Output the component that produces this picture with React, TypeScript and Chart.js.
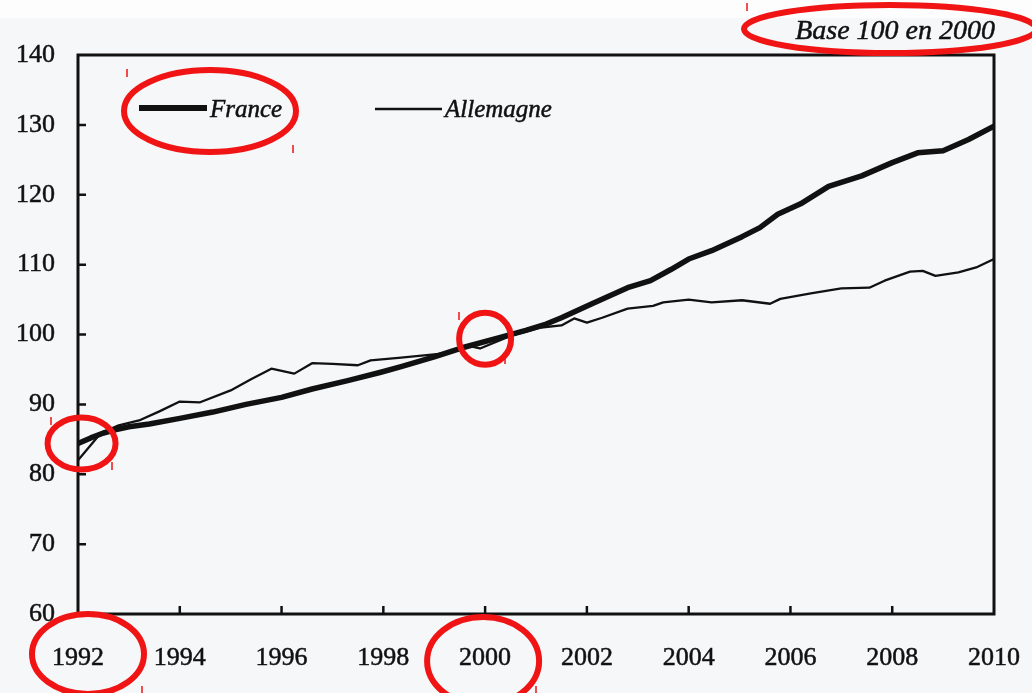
import React, { useEffect, useRef } from "react";
import { Chart, registerables } from "chart.js";

Chart.register(...registerables);

// ---- Data ----
const franceYears = [1992.0, 1992.25, 1992.5, 1992.75, 1993.0, 1993.4, 1994.0, 1994.65, 1995.3, 1996.0, 1996.6, 1997.3, 1997.95, 1998.35, 1999.0, 1999.55, 2000.3, 2000.8, 2001.2, 2001.5, 2002.1, 2002.8, 2003.25, 2003.65, 2004.0, 2004.45, 2005.05, 2005.4, 2005.75, 2006.2, 2006.75, 2007.4, 2008.0, 2008.5, 2009.0, 2009.5, 2010.0];
const franceValues = [84.4, 85.2, 85.9, 86.4, 86.8, 87.2, 88.0, 88.9, 90.0, 91.0, 92.2, 93.4, 94.6, 95.4, 96.8, 98.1, 99.6, 100.6, 101.5, 102.4, 104.4, 106.7, 107.7, 109.3, 110.8, 112.0, 114.0, 115.3, 117.2, 118.7, 121.2, 122.7, 124.6, 126.0, 126.3, 127.9, 129.8];

const germanyYears = [1992.0, 1992.45, 1992.8, 1993.2, 1993.6, 1994.0, 1994.4, 1995.0, 1995.4, 1995.8, 1996.25, 1996.6, 1997.0, 1997.5, 1997.75, 1998.35, 1998.8, 1999.2, 1999.5, 1999.65, 1999.9, 2000.5, 2001.1, 2001.5, 2001.75, 2002.0, 2002.3, 2002.8, 2003.3, 2003.5, 2004.0, 2004.45, 2005.05, 2005.6, 2005.8, 2006.4, 2007.0, 2007.55, 2007.85, 2008.35, 2008.6, 2008.85, 2009.3, 2009.65, 2010.0];
const germanyValues = [82.0, 85.9, 87.0, 87.7, 89.0, 90.4, 90.3, 92.0, 93.6, 95.1, 94.4, 95.9, 95.8, 95.6, 96.3, 96.7, 97.0, 97.3, 97.8, 98.4, 98.0, 99.8, 101.0, 101.3, 102.3, 101.7, 102.4, 103.7, 104.1, 104.6, 105.0, 104.6, 104.9, 104.4, 105.1, 105.9, 106.6, 106.7, 107.7, 109.0, 109.1, 108.4, 108.9, 109.6, 110.8];

const seriesNames = ["France", "Allemagne"];
const yMin = 60;
const yMax = 140;
const yStep = 10;
const xMin = 1992;
const xMax = 2010;
const xStep = 2;
const noteText = "Base 100 en 2000";

const SERIF = "'Liberation Serif', 'Times New Roman', serif";
const RED = "#f01414";
const INK = "#111";

const toPoints = (xs: number[], ys: number[]) => xs.map((x, i) => ({ x, y: ys[i] }));

const overlayPlugin = {
  id: "overlay",
  beforeDraw(chart: any) {
    const ctx = chart.ctx;
    ctx.save();
    ctx.fillStyle = "#f6f7f9";
    ctx.fillRect(0, 0, chart.width, chart.height);
    ctx.fillStyle = "#fdfdfd";
    ctx.fillRect(0, 0, chart.width, 18);
    ctx.restore();
  },
  beforeDatasetsDraw(chart: any) {
    const ctx = chart.ctx;
    const { left, right, top, bottom } = chart.chartArea;
    const xs = chart.scales.x;
    const ys = chart.scales.y;
    ctx.save();
    ctx.strokeStyle = INK;
    ctx.lineWidth = 3;
    ctx.strokeRect(left, top, right - left, bottom - top);
    ctx.lineWidth = 2.5;
    ctx.beginPath();
    for (let v = yMin + yStep; v < yMax; v += yStep) {
      const py = ys.getPixelForValue(v);
      ctx.moveTo(left, py);
      ctx.lineTo(left + 8, py);
    }
    for (let v = xMin + xStep; v < xMax; v += xStep) {
      const px = xs.getPixelForValue(v);
      ctx.moveTo(px, bottom);
      ctx.lineTo(px, bottom - 8);
    }
    ctx.stroke();
    ctx.restore();
  },
  afterDraw(chart: any) {
    const ctx = chart.ctx;
    const xs = chart.scales.x;
    const ys = chart.scales.y;
    ctx.save();
    // legend
    ctx.strokeStyle = INK;
    ctx.lineCap = "butt";
    ctx.lineWidth = 6;
    ctx.beginPath();
    ctx.moveTo(139, 108);
    ctx.lineTo(207, 108);
    ctx.stroke();
    ctx.lineWidth = 2.5;
    ctx.beginPath();
    ctx.moveTo(375, 109);
    ctx.lineTo(442, 109);
    ctx.stroke();
    ctx.fillStyle = INK;
    ctx.strokeStyle = INK;
    ctx.lineWidth = 0.5;
    ctx.font = `italic 25px ${SERIF}`;
    ctx.textBaseline = "alphabetic";
    ctx.textAlign = "left";
    ctx.fillText(seriesNames[0], 210, 117);
    ctx.strokeText(seriesNames[0], 210, 117);
    ctx.fillText(seriesNames[1], 445, 117);
    ctx.strokeText(seriesNames[1], 445, 117);
    // note
    ctx.font = `italic 28px ${SERIF}`;
    ctx.textAlign = "right";
    ctx.fillText(noteText, 995, 39);
    ctx.strokeText(noteText, 995, 39);

    // red ellipses
    ctx.strokeStyle = RED;
    ctx.lineWidth = 6;
    const ell = (cx: number, cy: number, rx: number, ry: number) => {
      ctx.beginPath();
      ctx.ellipse(cx, cy, rx, ry, 0, 0, Math.PI * 2);
      ctx.stroke();
    };
    ell(890, 29, 146, 24);
    ell(210, 111, 86, 41);
    ell(xs.getPixelForValue(1992.07), ys.getPixelForValue(84.4), 34, 26);
    ell(xs.getPixelForValue(2000), ys.getPixelForValue(99.4), 26, 26);
    ell(xs.getPixelForValue(1992) + 10, 654, 56, 40);
    ell(xs.getPixelForValue(2000) - 2, 661, 56, 44);

    // small red marks
    ctx.lineWidth = 1.5;
    const marks: [number, number, number][] = [
      [127, 69, 77], [293, 145, 153], [747, 3, 11], [51, 417, 425], [112, 462, 470],
      [142, 686, 693], [459, 312, 320], [505, 357, 364], [536, 686, 693],
    ];
    ctx.beginPath();
    marks.forEach(([x, y1, y2]) => {
      ctx.moveTo(x, y1);
      ctx.lineTo(x, y2);
    });
    ctx.stroke();
    ctx.restore();
  },
};

export default function App() {
  const ref = useRef<HTMLCanvasElement | null>(null);
  useEffect(() => {
    if (!ref.current) return;
    const chart = new Chart(ref.current, {
      type: "line",
      data: {
        datasets: [
          {
            label: seriesNames[0],
            data: toPoints(franceYears, franceValues),
            borderColor: INK,
            borderWidth: 5.5,
            pointRadius: 0,
            tension: 0,
            borderJoinStyle: "round",
            borderCapStyle: "round",
          },
          {
            label: seriesNames[1],
            data: toPoints(germanyYears, germanyValues),
            borderColor: INK,
            borderWidth: 2.3,
            pointRadius: 0,
            tension: 0,
            borderJoinStyle: "round",
          },
        ],
      },
      options: {
        animation: false,
        responsive: false,
        events: [],
        layout: { padding: { top: 55, right: 38, left: 0, bottom: 0 } },
        plugins: { legend: { display: false }, title: { display: false }, tooltip: { enabled: false } },
        scales: {
          x: {
            type: "linear",
            min: xMin,
            max: xMax,
            grid: { display: false, drawTicks: false },
            border: { display: false },
            ticks: {
              stepSize: xStep,
              autoSkip: false,
              maxRotation: 0,
              padding: 29,
              color: INK,
              textStrokeColor: INK,
              textStrokeWidth: 0.5,
              font: { family: SERIF, size: 26 },
              callback: (v: any) => String(v),
            },
            afterFit: (s: any) => {
              s.height = 79;
              s.paddingLeft = 0;
              s.paddingRight = 0;
            },
          },
          y: {
            min: yMin,
            max: yMax,
            grid: { display: false, drawTicks: false },
            border: { display: false },
            ticks: {
              stepSize: yStep,
              padding: 23,
              color: INK,
              textStrokeColor: INK,
              textStrokeWidth: 0.5,
              font: { family: SERIF, size: 26 },
              callback: (v: any) => String(v),
            },
            afterFit: (s: any) => {
              s.width = 78;
              s.paddingTop = 0;
              s.paddingBottom = 0;
            },
          },
        },
      } as any,
      plugins: [overlayPlugin],
    });
    return () => chart.destroy();
  }, []);
  return (
    <div style={{ position: "fixed", left: 0, top: 0, width: 1032, height: 693 }}>
      <canvas ref={ref} width={1032} height={693} style={{ width: 1032, height: 693, display: "block" }} />
    </div>
  );
}
